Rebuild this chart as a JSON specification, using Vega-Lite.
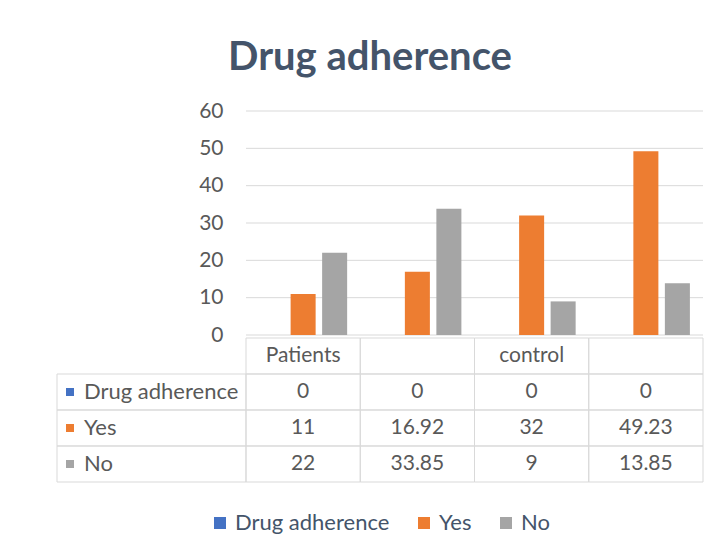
{
  "$schema": "https://vega.github.io/schema/vega-lite/v6.json",
  "background": "white",
  "padding": {"left": 56, "top": 37, "right": 10, "bottom": 5},
  "title": {"text": "Drug adherence", "font": "Lato", "fontSize": 40, "fontWeight": "bold", "color": "#44546a", "anchor": "middle", "offset": 22, "dx": -10},
  "datasets": {
    "bars": [
      {"group": "Patients", "series": "Drug adherence", "value": 0},
      {"group": "Patients (%)", "series": "Drug adherence", "value": 0},
      {"group": "control", "series": "Drug adherence", "value": 0},
      {"group": "control (%)", "series": "Drug adherence", "value": 0},
      {"group": "Patients", "series": "Yes", "value": 11},
      {"group": "Patients (%)", "series": "Yes", "value": 16.92},
      {"group": "control", "series": "Yes", "value": 32},
      {"group": "control (%)", "series": "Yes", "value": 49.23},
      {"group": "Patients", "series": "No", "value": 22},
      {"group": "Patients (%)", "series": "No", "value": 33.85},
      {"group": "control", "series": "No", "value": 9},
      {"group": "control (%)", "series": "No", "value": 13.85}
    ],
    "headers": [
      {"group": "Patients", "header": "Patients"},
      {"group": "Patients (%)", "header": ""},
      {"group": "control", "header": "control"},
      {"group": "control (%)", "header": ""}
    ],
    "series": [
      {"series": "Drug adherence"},
      {"series": "Yes"},
      {"series": "No"}
    ],
    "grid": [{"v": 0}, {"v": 10}, {"v": 20}, {"v": 30}, {"v": 40}, {"v": 50}, {"v": 60}]
  },
  "columns": 2,
  "spacing": {"row": 3, "column": 0},
  "bounds": "flush",
  "concat": [
    {
      "width": 189,
      "height": 224,
      "data": {"name": "grid"},
      "mark": {"type": "rule", "opacity": 0},
      "encoding": {
        "y": {"field": "v", "type": "quantitative", "scale": {"domain": [0, 60]},
              "axis": {"values": [0, 10, 20, 30, 40, 50, 60], "offset": -189, "domain": false, "ticks": false, "grid": false,
                       "labelPadding": 23, "labelFontSize": 21, "labelFont": "Lato", "labelColor": "#595959", "title": null}}
      }
    },
    {
      "width": 457,
      "height": 224,
      "layer": [
        {
          "data": {"name": "grid"},
          "mark": {"type": "rule", "color": "#d9d9d9", "strokeWidth": 1},
          "encoding": {
            "y": {"field": "v", "type": "quantitative", "scale": {"domain": [0, 60]}, "axis": null}
          }
        },
        {
          "data": {"name": "bars"},
          "mark": {"type": "bar"},
          "encoding": {
            "x": {"field": "group", "type": "nominal", "sort": null,
                  "scale": {"domain": ["Patients", "Patients (%)", "control", "control (%)"], "paddingInner": 0, "paddingOuter": 0},
                  "axis": null},
            "xOffset": {"field": "series", "type": "nominal",
                        "scale": {"domain": ["Drug adherence", "Yes", "No"], "paddingInner": 0.206, "paddingOuter": 0.416}},
            "y": {"field": "value", "type": "quantitative", "scale": {"domain": [0, 60]}, "axis": null},
            "color": {"field": "series", "type": "nominal",
                      "scale": {"domain": ["Drug adherence", "Yes", "No"], "range": ["#4472c4", "#ed7d31", "#a5a5a5"]},
                      "legend": {"title": null, "orient": "none", "legendX": 152, "legendY": 401, "direction": "horizontal",
                                 "symbolType": "square", "symbolSize": 144, "labelOffset": 4,
                                 "labelFontSize": 22, "labelFont": "Lato", "labelColor": "#44546a", "columnPadding": 23}}
          }
        }
      ]
    },
    {
      "width": 189,
      "height": 144,
      "data": {"name": "series"},
      "layer": [
        {
          "mark": {"type": "rect", "filled": false, "color": "#d9d9d9", "strokeWidth": 1},
          "encoding": {
            "x": {"datum": "lab", "type": "nominal", "scale": {"domain": ["lab"], "paddingInner": 0, "paddingOuter": 0}, "axis": null},
            "y": {"field": "series", "type": "nominal", "sort": null,
                  "scale": {"domain": ["header", "Drug adherence", "Yes", "No"], "paddingInner": 0, "paddingOuter": 0}, "axis": null}
          }
        },
        {
          "mark": {"type": "point", "shape": "square", "filled": true, "size": 64, "opacity": 1, "xOffset": 13},
          "encoding": {
            "x": {"datum": "lab", "type": "nominal", "bandPosition": 0},
            "y": {"field": "series", "type": "nominal", "sort": null},
            "color": {"field": "series", "type": "nominal"}
          }
        },
        {
          "mark": {"type": "text", "align": "left", "dx": 27, "fontSize": 22, "font": "Lato", "color": "#595959"},
          "encoding": {
            "x": {"datum": "lab", "type": "nominal", "bandPosition": 0},
            "y": {"field": "series", "type": "nominal", "sort": null},
            "text": {"field": "series"}
          }
        }
      ]
    },
    {
      "width": 457,
      "height": 144,
      "layer": [
        {
          "data": {"name": "headers"},
          "mark": {"type": "rect", "filled": false, "color": "#d9d9d9", "strokeWidth": 1},
          "encoding": {
            "x": {"field": "group", "type": "nominal", "sort": null,
                  "scale": {"domain": ["Patients", "Patients (%)", "control", "control (%)"], "paddingInner": 0, "paddingOuter": 0},
                  "axis": null},
            "y": {"datum": "header", "type": "nominal",
                  "scale": {"domain": ["header", "Drug adherence", "Yes", "No"], "paddingInner": 0, "paddingOuter": 0}, "axis": null}
          }
        },
        {
          "data": {"name": "headers"},
          "mark": {"type": "text", "fontSize": 21, "font": "Lato", "color": "#595959"},
          "encoding": {
            "x": {"field": "group", "type": "nominal", "sort": null},
            "y": {"datum": "header", "type": "nominal"},
            "text": {"field": "header"}
          }
        },
        {
          "data": {"name": "bars"},
          "mark": {"type": "rect", "filled": false, "color": "#d9d9d9", "strokeWidth": 1},
          "encoding": {
            "x": {"field": "group", "type": "nominal", "sort": null},
            "y": {"field": "series", "type": "nominal", "sort": null}
          }
        },
        {
          "data": {"name": "bars"},
          "mark": {"type": "text", "fontSize": 21, "font": "Lato", "color": "#595959"},
          "encoding": {
            "x": {"field": "group", "type": "nominal", "sort": null},
            "y": {"field": "series", "type": "nominal", "sort": null},
            "text": {"field": "value", "type": "quantitative"}
          }
        }
      ]
    }
  ],
  "config": {"view": {"stroke": "transparent"}, "font": "Lato"}
}
